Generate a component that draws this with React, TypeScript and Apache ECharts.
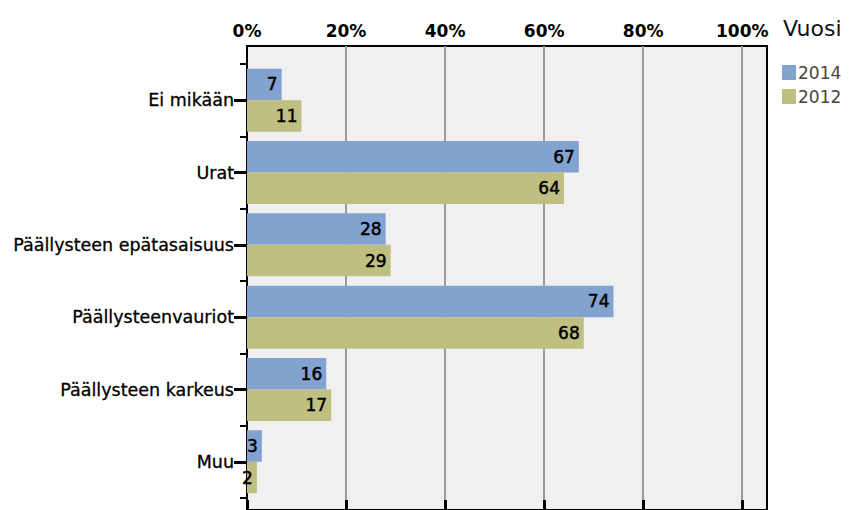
import React, { useEffect, useRef } from "react";
import * as echarts from "echarts";

const categories = [
  "Ei mikään",
  "Urat",
  "Päällysteen epätasaisuus",
  "Päällysteenvauriot",
  "Päällysteen karkeus",
  "Muu",
];
const values2014 = [7, 67, 28, 74, 16, 3];
const values2012 = [11, 64, 29, 68, 17, 2];
const xTicks = [0, 20, 40, 60, 80, 100];

const FONT = "DejaVu Sans";

export default function App() {
  const ref = useRef<HTMLDivElement>(null);
  useEffect(() => {
    if (!ref.current) return;
    const chart = echarts.init(ref.current, null, { renderer: "svg" });
    const barLabel = {
      show: true,
      position: "insideRight",
      distance: 4,
      color: "#000",
      fontSize: 17,
      fontFamily: FONT,
      textBorderColor: "#000",
      textBorderWidth: 0.5,
    };
    chart.setOption({
      animation: false,
      textStyle: { fontFamily: FONT },
      title: {
        text: "Vuosi",
        left: 778,
        top: 12,
        textStyle: { fontSize: 22, fontWeight: "normal", color: "#111", fontFamily: FONT },
      },
      legend: {
        orient: "vertical",
        left: 777,
        top: 59,
        itemWidth: 14,
        itemHeight: 15,
        itemGap: 7,
        icon: "rect",
        data: ["2014", "2012"],
        textStyle: { fontSize: 17, color: "#444", fontFamily: FONT, padding: [0, 0, 0, -3] },
      },
      grid: [
        {
          left: 247,
          right: 90,
          top: 46,
          bottom: -60,
          show: true,
          backgroundColor: "#f0f0f0",
          borderColor: "#000",
          borderWidth: 2,
        },
        { left: 247, right: 90, top: 64, height: 434 },
      ],
      xAxis: [
        {
          gridIndex: 0,
          type: "value",
          position: "top",
          min: 0,
          max: 105,
          interval: 20,
          axisLine: { show: true, lineStyle: { color: "#000", width: 2 } },
          axisTick: {
            show: true,
            inside: false,
            length: 10,
            lineStyle: { color: "#000", width: 3 },
            customValues: xTicks,
          },
          axisLabel: {
            customValues: xTicks,
            formatter: (v: number) => v + "%",
            fontSize: 17,
            fontWeight: "bold",
            color: "#000",
            margin: 7,
            fontFamily: FONT,
          },
          splitLine: { show: true, lineStyle: { color: "#9a9a9a", width: 2 } },
        },
        {
          gridIndex: 1,
          type: "value",
          min: 0,
          max: 105,
          show: false,
        },
      ],
      yAxis: [
        {
          gridIndex: 0,
          type: "value",
          position: "left",
          min: 0,
          max: 1,
          axisLine: { show: true, lineStyle: { color: "#000", width: 2 } },
          axisTick: { show: false },
          axisLabel: { show: false },
          splitLine: { show: false },
        },
        {
          gridIndex: 1,
          type: "category",
          position: "left",
          inverse: true,
          data: categories,
          axisLine: { show: false },
          axisTick: {
            show: true,
            alignWithLabel: true,
            length: 13,
            lineStyle: { color: "#000", width: 3 },
          },
          axisLabel: {
            fontSize: 17.5,
            color: "#000",
            margin: 13,
            fontFamily: FONT,
            textBorderColor: "#000",
            textBorderWidth: 0.3,
          },
        },
        {
          gridIndex: 1,
          type: "category",
          position: "left",
          offset: 0,
          inverse: true,
          data: categories,
          axisLine: { show: false },
          axisTick: {
            show: true,
            alignWithLabel: false,
            length: 7,
            lineStyle: { color: "#000", width: 2 },
          },
          axisLabel: { show: false },
        },
      ],
      series: [
        {
          name: "2014",
          type: "bar",
          xAxisIndex: 1,
          yAxisIndex: 1,
          data: values2014,
          barGap: "0%",
          barCategoryGap: "13%",
          itemStyle: { color: "#82a2d0" },
          label: barLabel,
        },
        {
          name: "2012",
          type: "bar",
          xAxisIndex: 1,
          yAxisIndex: 1,
          data: values2012,
          barGap: "0%",
          barCategoryGap: "13%",
          itemStyle: { color: "#bfbf82" },
          label: barLabel,
        },
      ],
    });
    return () => chart.dispose();
  }, []);
  return (
    <div
      ref={ref}
      style={{ position: "fixed", left: 0, top: 0, width: 857, height: 510, background: "#fff" }}
    />
  );
}
